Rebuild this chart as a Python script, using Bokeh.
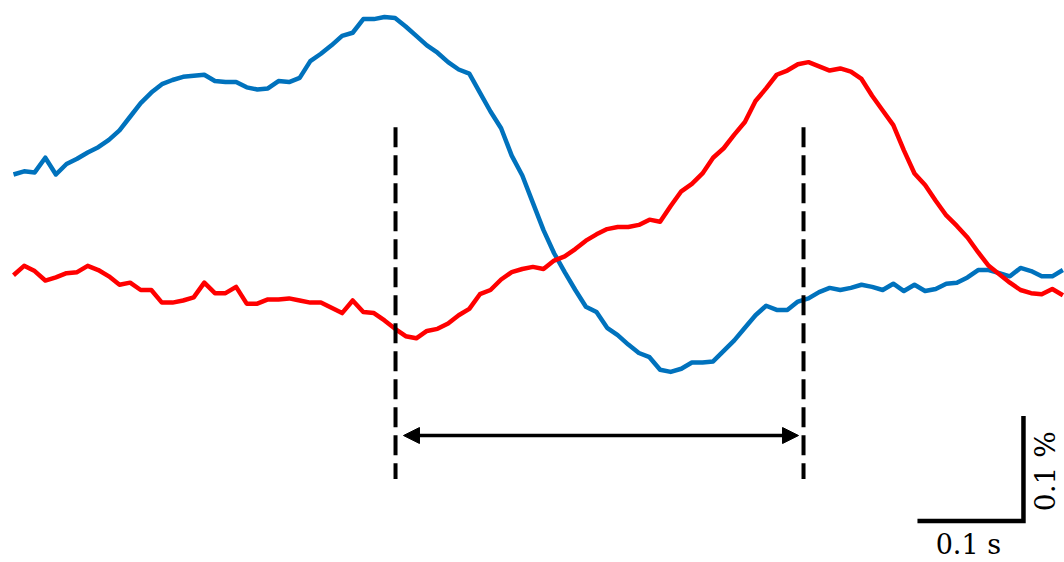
import numpy as np
from bokeh.plotting import figure
from bokeh.models import Range1d, Arrow, NormalHead, Label
from bokeh.embed import file_html
from bokeh.resources import INLINE

# time axis: 100 samples, 10 ms apart (seconds)
time_s = np.arange(100) * 0.01

# blue trace (dF/F, %)
blue_signal = [
    0.120, 0.123, 0.122, 0.136, 0.120, 0.130, 0.135, 0.141, 0.146, 0.153,
    0.162, 0.175, 0.188, 0.198, 0.206, 0.210, 0.213, 0.214, 0.215, 0.209,
    0.208, 0.208, 0.203, 0.201, 0.202, 0.209, 0.208, 0.212, 0.228, 0.235,
    0.243, 0.252, 0.255, 0.268, 0.268, 0.270, 0.269, 0.261, 0.252, 0.243,
    0.236, 0.227, 0.220, 0.216, 0.198, 0.180, 0.164, 0.138, 0.119, 0.093,
    0.067, 0.045, 0.027, 0.010, -0.006, -0.011, -0.026, -0.033, -0.042, -0.050,
    -0.054, -0.066, -0.068, -0.065, -0.059, -0.059, -0.058, -0.048, -0.038, -0.026,
    -0.014, -0.005, -0.009, -0.009, -0.001, 0.002, 0.008, 0.012, 0.010, 0.012,
    0.015, 0.013, 0.010, 0.016, 0.009, 0.015, 0.009, 0.011, 0.016, 0.017,
    0.022, 0.029, 0.029, 0.026, 0.023, 0.031, 0.028, 0.023, 0.023, 0.029,
]

# red trace (dF/F, %)
red_signal = [
    0.024, 0.033, 0.028, 0.019, 0.022, 0.026, 0.027, 0.033, 0.029, 0.023,
    0.015, 0.017, 0.010, 0.010, -0.002, -0.002, 0.000, 0.003, 0.017, 0.007,
    0.007, 0.013, -0.003, -0.003, 0.001, 0.001, 0.002, 0.000, -0.002, -0.002,
    -0.007, -0.012, 0.000, -0.011, -0.012, -0.019, -0.027, -0.034, -0.036, -0.029,
    -0.027, -0.022, -0.014, -0.008, 0.006, 0.010, 0.020, 0.027, 0.030, 0.032,
    0.030, 0.038, 0.042, 0.049, 0.057, 0.063, 0.068, 0.070, 0.070, 0.072,
    0.077, 0.075, 0.090, 0.104, 0.111, 0.121, 0.136, 0.145, 0.158, 0.170,
    0.190, 0.202, 0.215, 0.219, 0.225, 0.227, 0.223, 0.219, 0.221, 0.218,
    0.211, 0.195, 0.181, 0.167, 0.143, 0.121, 0.110, 0.095, 0.081, 0.071,
    0.060, 0.046, 0.033, 0.025, 0.017, 0.010, 0.007, 0.006, 0.011, 0.005,
]

# markers (s) and annotation levels (%)
marker_times = [0.3604, 0.7453]
marker_top, marker_bottom = 0.165, -0.170
arrow_level = -0.1286
arrow_start, arrow_end = 0.3679, 0.7406

# scale bar: 0.1 s and 0.1 %
scale_t0, scale_dt = 0.9528, 0.1
scale_v0, scale_dv = -0.21, 0.1
label_s = "0.1 s"
label_pct = "0.1 %"

p = figure(width=1064, height=562, output_backend="svg", toolbar_location=None,
           x_range=Range1d(-13 / 1060, 1051 / 1060),
           y_range=Range1d(-262 / 1050, 300 / 1050),
           x_axis_location=None, y_axis_location=None, min_border=0)
p.grid.visible = False
p.outline_line_color = None
p.background_fill_color = "white"
p.border_fill_color = "white"

p.line(time_s, blue_signal, line_color="#0072BD", line_width=4.5, line_join="round")
p.line(time_s, red_signal, line_color="#FF0000", line_width=4.5, line_join="round")

p.segment(x0=marker_times, y0=[marker_top] * 2, x1=marker_times, y1=[marker_bottom] * 2,
          line_color="black", line_width=4, line_dash="20 8")

p.add_layout(Arrow(start=NormalHead(size=16, fill_color="black", line_color="black"),
                   end=NormalHead(size=16, fill_color="black", line_color="black"),
                   x_start=arrow_start, y_start=arrow_level,
                   x_end=arrow_end, y_end=arrow_level,
                   line_color="black", line_width=3.5))

p.line([scale_t0 - scale_dt, scale_t0, scale_t0],
       [scale_v0, scale_v0, scale_v0 + scale_dv],
       line_color="black", line_width=4.5, line_join="miter")

p.add_layout(Label(x=scale_t0 - scale_dt / 2 - 0.002, y=scale_v0 - 0.0375, text=label_s,
                   text_font="DejaVu Serif", text_font_size="27px",
                   text_align="center", text_baseline="bottom", text_color="black"))
p.add_layout(Label(x=scale_t0 + 0.021, y=scale_v0 + scale_dv / 2 - 0.0025, text=label_pct,
                   angle=np.pi / 2,
                   text_font="DejaVu Serif", text_font_size="28px",
                   text_align="center", text_baseline="middle", text_color="black"))

open("out.html", "w").write(file_html(p, INLINE))
